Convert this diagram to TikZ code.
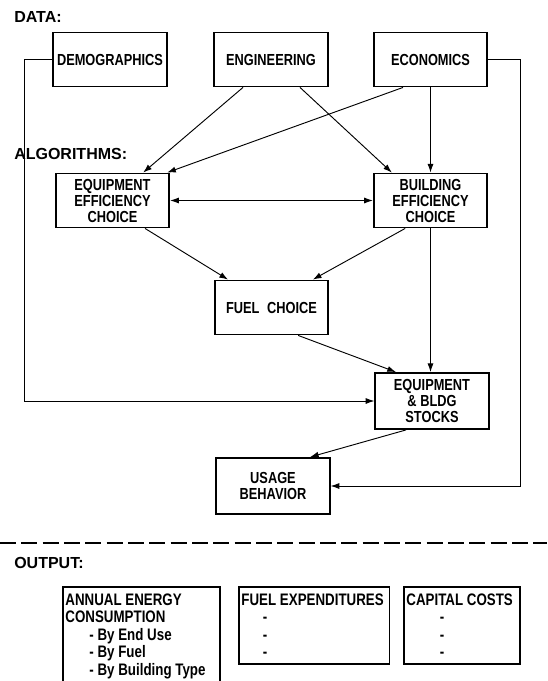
\documentclass[tikz,border=0pt]{standalone}
\usepackage{fontspec}
\setmainfont{Liberation Sans}[FakeStretch=0.8]
\newfontfamily\hdfamily{Liberation Sans}
\usetikzlibrary{arrows.meta}

\newcommand{\boxfont}{\fontsize{12}{12}\selectfont\bfseries}
\newcommand{\outfont}{\fontsize{12.5}{13.2}\selectfont\bfseries}
\newcommand{\hdfont}{\hdfamily\fontsize{12}{12}\selectfont\bfseries}

\begin{document}
\begin{tikzpicture}[x=0.75pt, y=-0.75pt,
    algbox/.style={draw, line width=1.4pt, minimum width=85pt, minimum height=40.5pt,
      inner sep=2pt, align=center, font=\boxfont},
    outbox/.style={draw, line width=1.2pt, anchor=north west, inner xsep=2pt,
      inner ysep=5pt, font=\outfont},
    flow/.style={-{Latex[length=6.5pt,width=4.5pt]}, line width=0.7pt},
    twoway/.style={{Latex[length=6.5pt,width=4.5pt]}-{Latex[length=6.5pt,width=4.5pt]}, line width=0.7pt},
    heading/.style={anchor=west, inner sep=0pt, font=\hdfont}]
  \useasboundingbox (0,0) rectangle (547,681);

  % data
  \node[heading] (datalbl) at (14,17) {DATA:};
  \node[algbox] (demo) at (110,59.5) {DEMOGRAPHICS};
  \node[algbox] (engin) at (271,59.5) {ENGINEERING};
  \node[algbox] (econ) at (430.5,59.5) {ECONOMICS};

  % algorithms
  \node[heading] (alglbl) at (14,154) {ALGORITHMS:};
  \node[algbox] (equip) at (112.5,200.5) {EQUIPMENT\\EFFICIENCY\\CHOICE};
  \node[algbox] (build) at (430.5,200.5) {BUILDING\\EFFICIENCY\\CHOICE};
  \node[algbox] (fuel) at (271.5,307.5) {FUEL\hspace{3pt} CHOICE};
  \node[algbox, minimum height=42pt] (stocks) at (432,401) {EQUIPMENT\\\& BLDG\\STOCKS};
  \node[algbox, minimum height=42pt] (usage) at (273,486) {USAGE\\BEHAVIOR};

  \draw[flow] ([xshift=-21pt]engin.south) -- ([xshift=23pt]equip.north);
  \draw[flow] ([xshift=21.75pt]engin.south) -- ([xshift=-29pt]build.north);
  \draw[flow] ([xshift=-20.6pt]econ.south) -- ([xshift=41pt]equip.north);
  \draw[flow] (econ.south) -- (build.north);
  \draw[twoway] (equip.east) -- (equip.east -| build.west);
  \draw[flow] ([xshift=24.4pt]equip.south) -- ([xshift=-32.6pt]fuel.north);
  \draw[flow] ([xshift=-19pt]build.south) -- ([xshift=31pt]fuel.north);
  \draw[flow] ([xshift=20pt]fuel.south) -- ([xshift=-27pt]stocks.north);
  \draw[flow] (build.south) -- (build.south |- stocks.north);
  \draw[flow] (demo.west) -- ++(-28,0) |- (stocks.west);
  \draw[flow] ([xshift=-19.5pt]stocks.south) -- ([xshift=27.75pt]usage.north);
  \draw[flow] (econ.east) -- ++(32,0) |- (usage.east);

  \draw[line width=0.9pt, dash pattern=on 12pt off 4pt] (0,543) -- (547,543);

  % output
  \node[heading] (outlbl) at (14,563) {OUTPUT:};
  \node[outbox] (annual) at (62,586) {\parbox[t][90pt][t]{114pt}{ANNUAL ENERGY\\CONSUMPTION\\
    \hspace*{18pt}- By End Use\\\hspace*{18pt}- By Fuel\\\hspace*{18pt}- By Building Type}};
  \node[outbox] (fuelexp) at (238,586) {\parbox[t][48pt][t]{109pt}{FUEL EXPENDITURES\\
    \hspace*{16pt}-\\\hspace*{16pt}-\\\hspace*{16pt}-}};
  \node[outbox] (capcost) at (403,586) {\parbox[t][48pt][t]{83pt}{CAPITAL COSTS\\
    \hspace*{25pt}-\\\hspace*{25pt}-\\\hspace*{25pt}-}};
\end{tikzpicture}
\end{document}
